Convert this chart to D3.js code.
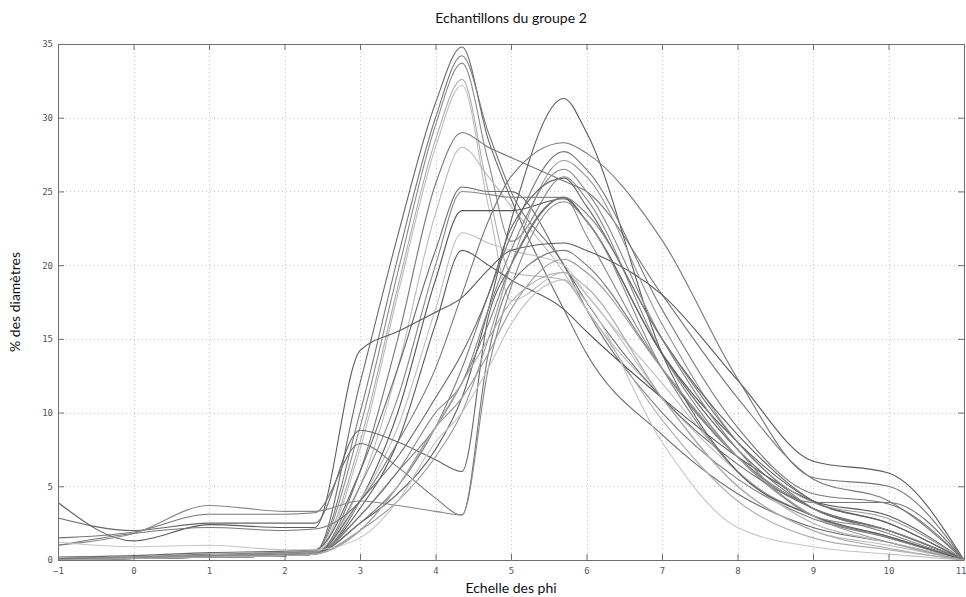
<!DOCTYPE html>
<html><head><meta charset="utf-8">
<script src="https://cdn.jsdelivr.net/npm/d3@7"></script>
<style>body{margin:0;background:#fff;}svg{display:block;}</style>
</head><body>
<svg id="chart" width="966" height="597"></svg>
<script>
// ---- data ----
const titleText = "Echantillons du groupe 2";
const xLabel = "Echelle des phi";
const yLabel = "% des diamètres";
const phi = [-1, 0, 1, 2, 2.4, 3, 3.5, 4, 4.35, 4.7, 5, 5.7, 6, 7, 8, 9, 10, 11];
const xTicks = [-1, 0, 1, 2, 3, 4, 5, 6, 7, 8, 9, 10, 11];
const yTicks = [0, 5, 10, 15, 20, 25, 30, 35];

const c01 = [0.1,0.1,0.3,0.4,0.5, 12,22,31,34.8,28.5,24.5,17,14,8.5,4.5,2.2,1.2,0];
const c02 = [0.1,0.2,0.4,0.5,0.6, 10,20.5,30,34.2,29,25,20,17,10,5.5,2.8,1.5,0];
const c03 = [0,0.1,0.3,0.5,0.6, 9,19.5,29.5,33.7,27,21.6,26,24.5,14,7,3,1.6,0];
const c04 = [0.1,0.2,0.3,0.4,0.5, 8,18.5,28.5,32.6,25,19.5,19,17,9.5,4,1.5,0.7,0];
const c05 = [0,0.1,0.2,0.3,0.4, 7.5,18,28,32.2,24,17.6,19.5,18,11,5,2,1,0];
const c06 = [0.1,0.1,0.2,0.3,0.4, 6,15,25.5,29,28,27.3,25.7,25,18,11,5.5,4,0];
const c07 = [0,0.1,0.2,0.3,0.4, 5,13,23.5,28,26,24,19.5,17,11,6,2.5,1.2,0];
const c08 = [0.2,0.3,0.5,0.6,0.7, 6,13,21,25.3,25,25,20,17.5,11,6.5,3.5,2,0];
const c09 = [0.1,0.1,0.2,0.3,0.4, 5,11,20,25,24.8,24.6,24.6,22,13,7,3.5,1.8,0];
const c10 = [0,0.1,0.2,0.3,0.4, 4,10,19,23.7,23.7,23.7,24.5,23,14,8,4,2.5,0];
const c11 = [0.1,0.1,0.2,0.3,0.4, 4,9,17,22.2,21.5,21,20,18,12,6,2.5,1.2,0];
const c12 = [0,0.1,0.2,0.3,0.4, 3.5,8,16,21,20,19,17,15.5,11,7,4,3,0];
const c13 = [3.9,1.3,2.4,2.2,2.2, 14.2,15.5,16.8,17.8,19.7,21,21.5,21,18,12.2,6.7,5.9,0];
const c14 = [2.85,2.0,2.5,2.5,2.5, 8.8,8,6.8,6,16.5,20,24.6,23,14,7.5,3.5,2,0];
const c15 = [1.5,1.9,3.1,3.1,3.2, 7.9,6.3,4.2,3.05,14,18.8,21,20,13,7,3.9,3.9,0];
const c16 = [1.0,1.8,3.7,3.3,3.3, 4,3.7,3.3,3.05,13,18.5,24.3,23,13,6,3,1.5,0];
const c17 = [0,0.1,0.2,0.3,0.4, 2.5,4.5,7.5,11,17,23,31.3,29,14,6,3,1.6,0];
const c18 = [1.0,1.8,2.2,2.0,2.1, 4,8,13,18,23,26,28.3,27.6,21.7,12.3,5.6,5,0];
const c19 = [0.1,0.1,0.2,0.3,0.4, 2.5,5,9,13,18,22,27.7,26.5,17,9,4.5,3.8,0];
const c20 = [0,0.1,0.2,0.3,0.4, 2,4,7,10,15,20,27.1,26,16,8,3.9,2.8,0];
const c21 = [0.1,0.2,0.3,0.4,0.5, 3,6,10,12,17,21,26.5,25,15,7.5,3,2,0];
const c22 = [0,0.1,0.2,0.3,0.4, 4,7,11,14,18,22.5,25.9,24,15,8.5,4,2.5,0];
const c23 = [0.1,0.1,0.2,0.3,0.4, 3,6,9,12,16,20,24.6,23.5,15,8,3.5,2,0];
const c24 = [0,0.1,0.2,0.3,0.4, 2,5,9,11,14,17,20.4,19.5,13,7,3,1.2,0];
const c25 = [1.2,0.9,1.0,0.7,0.7, 1.5,4,8,10,13,16,19,17.5,8,2.2,0.9,0.4,0];
const c26 = [0,0.1,0.2,0.3,0.4, 2,5,9,12,15,17.5,19.5,18.5,11,5,2,0.8,0];

const allSeries = [c01,c02,c03,c04,c05,c06,c07,c08,c09,c10,c11,c12,c13,c14,c15,c16,c17,c18,c19,c20,c21,c22,c23,c24,c25,c26];
const shades = ["#6a6a6a","#7a7a7a","#8a8a8a","#adadad","#bdbdbd","#777777","#bbbbbb","#6a6a6a","#888888","#555555","#c0c0c0","#5a5a5a","#5a5a5a","#666666","#777777","#888888","#5a5a5a","#777777","#777777","#999999","#888888","#666666","#7a7a7a","#999999","#c4c4c4","#aaaaaa"];

// ---- layout ----
const svg = d3.select("#chart");
const m = {left: 58, right: 964, top: 44, bottom: 560};
const x = d3.scaleLinear().domain([-1, 11]).range([m.left, m.right]);
const y = d3.scaleLinear().domain([0, 35]).range([m.bottom, m.top]);

// grid
const grid = svg.append("g").attr("stroke", "#c8c8c8").attr("stroke-width", 1).attr("stroke-dasharray", "1,3");
grid.selectAll("line.vx").data(xTicks.slice(1, -1)).join("line")
  .attr("x1", d => Math.round(x(d)) + 0.5).attr("x2", d => Math.round(x(d)) + 0.5)
  .attr("y1", m.top).attr("y2", m.bottom);
grid.selectAll("line.hy").data(yTicks.slice(1, -1)).join("line")
  .attr("y1", d => Math.round(y(d)) + 0.5).attr("y2", d => Math.round(y(d)) + 0.5)
  .attr("x1", m.left).attr("x2", m.right);

// curves
const line = d3.line().x((d, i) => x(phi[i])).y(d => y(d)).curve(d3.curveMonotoneX);
svg.append("clipPath").attr("id", "clip").append("rect")
  .attr("x", m.left).attr("y", m.top - 2).attr("width", m.right - m.left).attr("height", m.bottom - m.top + 2);
svg.append("g").attr("clip-path", "url(#clip)")
  .selectAll("path").data(allSeries).join("path")
  .attr("d", d => line(d)).attr("fill", "none")
  .attr("stroke", (d, i) => shades[i]).attr("stroke-width", 1.1);

// axes (box with inward ticks)
const tickFont = "'DejaVu Sans Mono', monospace";
const axB = d3.axisBottom(x).tickValues(xTicks).tickSizeInner(-6).tickSizeOuter(0).tickPadding(8).tickFormat(d3.format("d"));
const axT = d3.axisTop(x).tickValues(xTicks).tickSizeInner(-6).tickSizeOuter(0).tickFormat("");
const axL = d3.axisLeft(y).tickValues(yTicks).tickSizeInner(-6).tickSizeOuter(0).tickPadding(5).tickFormat(d3.format("d"));
const axR = d3.axisRight(y).tickValues(yTicks).tickSizeInner(-6).tickSizeOuter(0).tickFormat("");
function style(g) {
  g.select(".domain").attr("stroke", "#6e6e6e");
  g.selectAll(".tick line").attr("stroke", "#6e6e6e");
  g.selectAll(".tick text").attr("fill", "#555").style("font-family", tickFont).style("font-size", "9px");
}
const gB = svg.append("g").attr("transform", `translate(0,${m.bottom})`).call(axB).call(style);
// keep the last label inside the window
gB.selectAll(".tick text").filter(d => d === 11).attr("text-anchor", "end").attr("dx", "2px");
svg.append("g").attr("transform", `translate(0,${m.top})`).call(axT).call(style);
svg.append("g").attr("transform", `translate(${m.left},0)`).call(axL).call(style);
svg.append("g").attr("transform", `translate(${m.right},0)`).call(axR).call(style);

// titles
const labFont = "Lato, 'Open Sans', sans-serif";
svg.append("text").attr("x", (m.left + m.right) / 2).attr("y", 23).attr("text-anchor", "middle")
  .style("font-family", labFont).style("font-size", "14px").attr("fill", "#111").text(titleText);
svg.append("text").attr("x", (m.left + m.right) / 2).attr("y", 593).attr("text-anchor", "middle")
  .style("font-family", labFont).style("font-size", "14px").attr("fill", "#111").text(xLabel);
svg.append("text").attr("transform", `translate(20,${(m.top + m.bottom) / 2}) rotate(-90)`).attr("text-anchor", "middle")
  .style("font-family", labFont).style("font-size", "14px").attr("fill", "#111").text(yLabel);
</script>
</body></html>
